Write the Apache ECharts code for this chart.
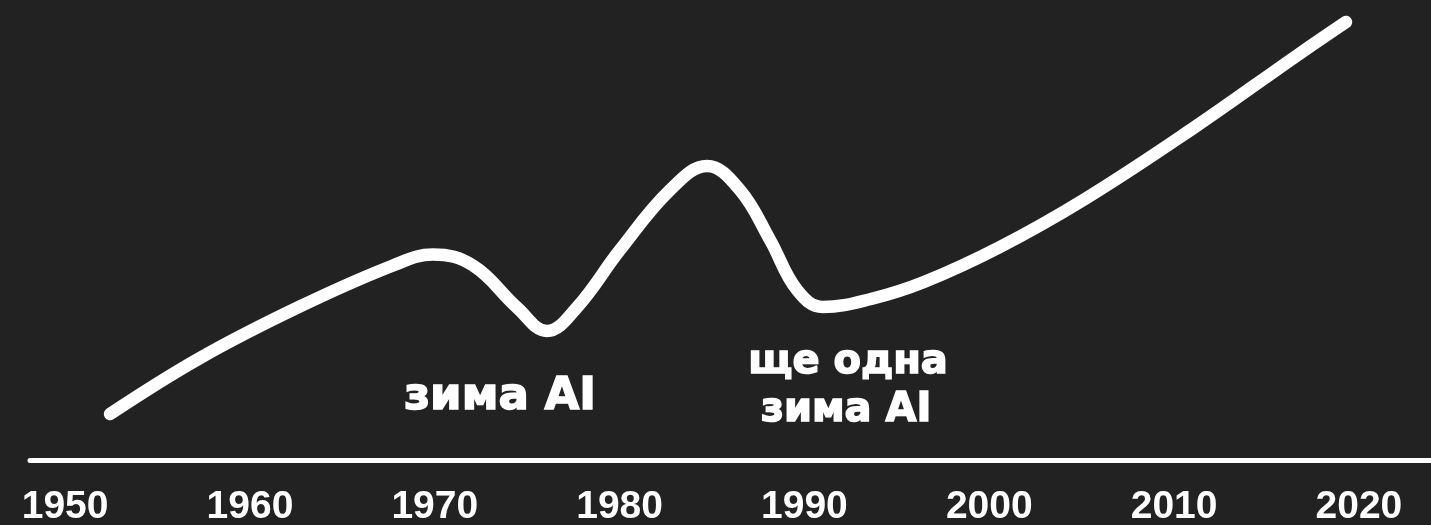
<!DOCTYPE html>
<html>
<head>
<meta charset="utf-8">
<script src="https://cdn.jsdelivr.net/npm/echarts@6/dist/echarts.min.js"></script>
<style>
  html, body { margin: 0; padding: 0; background: #222222; }
  #chart { width: 1431px; height: 525px; }
</style>
</head>
<body>
<div id="chart"></div>
<script>
// Points of the hype curve: year (x) and relative interest level (y, 0..100)
const years = [1952.43, 1957.30, 1962.71, 1967.74, 1969.90, 1972.07, 1974.45, 1976.07,
  1977.69, 1980.02, 1982.73, 1984.73, 1986.51, 1988.14, 1989.60, 1991.00,
  1993.60, 1996.47, 2000.58, 2005.18, 2010.97, 2016.76, 2019.30];
const interest = [10.45, 23.18, 34.89, 44.20, 46.70, 44.20, 34.66, 29.32,
  34.66, 47.73, 61.36, 66.82, 61.36, 50.00, 38.64, 34.77,
  36.59, 40.45, 48.41, 59.32, 75.23, 92.27, 99.55];
const tickYears = [1950, 1960, 1970, 1980, 1990, 2000, 2010, 2020];
const annotation1 = 'зима AI';
const annotation2 = ['ще одна', 'зима AI'];

const chart = echarts.init(document.getElementById('chart'), null, { renderer: 'canvas' });
const data = years.map((y, i) => [y, interest[i]]);

const annFont = (s) => 'bold ' + s + 'px "DejaVu Sans"';

chart.setOption({
  backgroundColor: '#222222',
  animation: false,
  grid: { left: 30, right: 0, top: 20, bottom: 65, containLabel: false, outerBoundsMode: 'none' },
  xAxis: {
    type: 'value',
    min: 1948.1,
    max: 2023.9,
    axisLine: { show: true, lineStyle: { color: '#ffffff', width: 5 } },
    axisTick: { show: false },
    splitLine: { show: false },
    axisLabel: {
      customValues: tickYears,
      formatter: v => String(Math.round(v)),
      color: '#ffffff',
      fontFamily: '"Liberation Sans", Arial, sans-serif',
      fontWeight: 'bold',
      fontSize: 39,
      margin: 28
    }
  },
  yAxis: {
    type: 'value', min: 0, max: 100, show: false,
    splitLine: { show: false }
  },
  series: [{
    type: 'line',
    data: data,
    smooth: 0.4,
    symbol: 'none',
    clip: false,
    lineStyle: { color: '#ffffff', width: 12.5, cap: 'round', join: 'round' }
  }],
  graphic: [
    { type: 'text', x: 500, y: 397, style: { text: annotation1, fill: '#ffffff',
      stroke: '#ffffff', lineWidth: 1.5,
      font: annFont(45), align: 'center', verticalAlign: 'middle' } },
    { type: 'text', x: 848, y: 363, style: { text: annotation2[0], fill: '#ffffff',
      stroke: '#ffffff', lineWidth: 1.5,
      font: annFont(40), align: 'center', verticalAlign: 'middle' } },
    { type: 'text', x: 846, y: 411, style: { text: annotation2[1], fill: '#ffffff',
      stroke: '#ffffff', lineWidth: 1.5,
      font: annFont(40), align: 'center', verticalAlign: 'middle' } }
  ]
});
</script>
</body>
</html>
